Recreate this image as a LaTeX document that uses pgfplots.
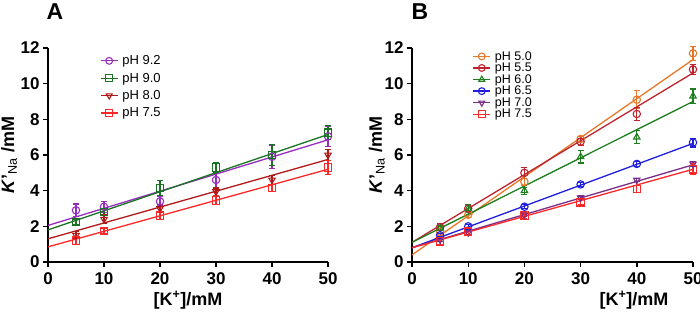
\documentclass[border=0pt]{standalone}
\usepackage{pgfplots}
\pgfplotsset{compat=1.18}
\usepackage{fontspec}
\setmainfont{Liberation Sans}
\definecolor{cPurA}{RGB}{150,45,190}
\definecolor{cGrnA}{RGB}{25,115,35}
\definecolor{cDRed}{RGB}{175,25,25}
\definecolor{cRed}{RGB}{250,40,40}
\definecolor{cOrg}{RGB}{232,120,40}
\definecolor{cRed55}{RGB}{190,35,45}
\definecolor{cGrn60}{RGB}{30,125,30}
\definecolor{cBlue}{RGB}{30,30,220}
\definecolor{cPur70}{RGB}{120,45,135}
\pgfplotsset{
  kstyle/.style={
    scale only axis, width=280pt, height=214pt,
    xmin=0, xmax=50, ymin=0, ymax=12,
    xtick={0,10,...,50}, ytick={0,2,...,12},
    axis lines=left, axis line style={-, line width=1.6pt},
    tick align=outside, major tick length=5pt,
    tick style={line width=1.4pt, black},
    /pgf/number format/assume math mode=true,
    tick label style={font=\fontsize{17}{17}\selectfont\bfseries},
    xticklabel style={yshift=-2pt},
    clip=false,
  },
  fitline/.style={line width=1.3pt, no marks, forget plot},
  pts/.style={only marks, forget plot, mark size=3.7pt, mark options={line width=1.1pt, fill=none},
    error bars/y dir=both, error bars/y explicit,
    error bars/error bar style={line width=1.1pt},
    error bars/error mark options={rotate=90, mark size=3pt, line width=1.1pt}},
  legimg/.style={line width=1.3pt, mark size=3.4pt, mark options={line width=1.1pt, fill=white}},
}
\begin{document}
\begin{tikzpicture}
\useasboundingbox (0pt,0pt) rectangle (700pt,314pt);
\node[font=\fontsize{23}{23}\selectfont\bfseries] at (55pt,302pt) {A};
\node[font=\fontsize{23}{23}\selectfont\bfseries] at (420pt,302pt) {B};
% ---------- Panel A ----------
\begin{axis}[kstyle, at={(48pt,52pt)}, anchor=south west,
  xlabel={\textbf{[K\textsuperscript{+}]/mM}},
  xlabel style={at={(axis description cs:0.5,-0.178)}, anchor=center, font=\fontsize{18}{18}\selectfont},
  ylabel={\textbf{\textit{K}'\textsubscript{\normalfont Na} /mM}},
  ylabel style={at={(axis description cs:-0.139,0.5)}, anchor=center, font=\fontsize{18}{18}\selectfont},
  legend style={at={(axis description cs:0.185,0.975)}, anchor=north west, draw=none, fill=none,
    font=\fontsize{13}{13}\selectfont, row sep=2.8pt, inner sep=0pt,
    nodes={inner xsep=4pt}},
  legend cell align=left,
]
\addlegendimage{legimg, cPurA, mark=o}\addlegendentry{pH 9.2}
\addlegendimage{legimg, cGrnA, mark=square}\addlegendentry{pH 9.0}
\addlegendimage{legimg, cDRed, mark=triangle, mark options={rotate=180, line width=1.1pt, fill=white}}\addlegendentry{pH 8.0}
\addlegendimage{legimg, cRed, mark=square}\addlegendentry{pH 7.5}
% pH 9.2
\addplot[fitline, cPurA] coordinates {(0,2.05) (50,6.85)};
\addplot[pts, cPurA, mark=o] table[x=x, y=y, y error=e] {
x y e
5 2.9 0.35
10 3.1 0.3
20 3.4 0.25
30 4.6 0.4
40 5.9 0.65
50 7.05 0.55
};
% pH 9.0
\addplot[fitline, cGrnA] coordinates {(0,1.8) (50,7.15)};
\addplot[pts, cGrnA, mark=square] table[x=x, y=y, y error=e] {
x y e
5 2.25 0.15
10 2.8 0.2
20 4.15 0.4
30 5.3 0.3
40 6.0 0.6
50 7.25 0.4
};
% pH 8.0
\addplot[fitline, cDRed] coordinates {(0,1.3) (50,5.75)};
\addplot[pts, cDRed, mark=triangle, mark options={rotate=180, line width=1.1pt, fill=none}] table[x=x, y=y, y error=e] {
x y e
5 1.5 0.2
10 2.4 0.25
20 3.0 0.2
30 3.95 0.2
40 4.6 0.25
50 6.0 0.3
};
% pH 7.5
\addplot[fitline, cRed] coordinates {(0,0.85) (50,5.2)};
\addplot[pts, cRed, mark=square] table[x=x, y=y, y error=e] {
x y e
5 1.2 0.2
10 1.75 0.15
20 2.6 0.2
30 3.45 0.25
40 4.15 0.2
50 5.3 0.4
};
\end{axis}
% ---------- Panel B ----------
\begin{axis}[kstyle, at={(412pt,52pt)}, anchor=south west, width=281pt,
  xlabel={\textbf{[K\textsuperscript{+}]/mM}},
  xlabel style={at={(axis description cs:0.79,-0.178)}, anchor=center, font=\fontsize{18}{18}\selectfont},
  ylabel={\textbf{\textit{K}'\textsubscript{\normalfont Na} /mM}},
  ylabel style={at={(axis description cs:-0.125,0.5)}, anchor=center, font=\fontsize{18}{18}\selectfont},
  legend style={at={(axis description cs:0.215,0.995)}, anchor=north west, draw=none, fill=none,
    font=\fontsize{12.5}{12.5}\selectfont, row sep=-2.6pt, inner sep=0pt,
    nodes={inner xsep=4pt}},
  legend cell align=left,
]
\addlegendimage{legimg, cOrg, mark=o}\addlegendentry{pH 5.0}
\addlegendimage{legimg, cRed55, mark=o}\addlegendentry{pH 5.5}
\addlegendimage{legimg, cGrn60, mark=triangle}\addlegendentry{pH 6.0}
\addlegendimage{legimg, cBlue, mark=o}\addlegendentry{pH 6.5}
\addlegendimage{legimg, cPur70, mark=triangle, mark options={rotate=180, line width=1.1pt, fill=white}}\addlegendentry{pH 7.0}
\addlegendimage{legimg, cRed, mark=square}\addlegendentry{pH 7.5}
% pH 5.0
\addplot[fitline, cOrg] coordinates {(0,0.4) (50,11.35)};
\addplot[pts, cOrg, mark=o] table[x=x, y=y, y error=e] {
x y e
5 1.7 0.2
10 2.65 0.15
20 4.5 0.2
30 6.9 0.15
40 9.1 0.5
50 11.7 0.4
};
% pH 5.5
\addplot[fitline, cRed55] coordinates {(0,1.1) (50,10.6)};
\addplot[pts, cRed55, mark=o] table[x=x, y=y, y error=e] {
x y e
5 1.95 0.2
10 3.0 0.2
20 5.0 0.3
30 6.75 0.2
40 8.3 0.35
50 10.8 0.3
};
% pH 6.0
\addplot[fitline, cGrn60] coordinates {(0,1.1) (50,9.0)};
\addplot[pts, cGrn60, mark=triangle] table[x=x, y=y, y error=e] {
x y e
5 1.9 0.15
10 3.0 0.2
20 4.0 0.2
30 5.9 0.35
40 7.0 0.35
50 9.3 0.4
};
% pH 6.5
\addplot[fitline, cBlue] coordinates {(0,0.8) (50,6.65)};
\addplot[pts, cBlue, mark=o] table[x=x, y=y, y error=e] {
x y e
5 1.5 0.1
10 2.0 0.1
20 3.1 0.1
30 4.35 0.1
40 5.5 0.15
50 6.7 0.25
};
% pH 7.0
\addplot[fitline, cPur70] coordinates {(0,0.8) (50,5.45)};
\addplot[pts, cPur70, mark=triangle, mark options={rotate=180, line width=1.1pt, fill=none}] table[x=x, y=y, y error=e] {
x y e
5 1.25 0.1
10 1.65 0.1
20 2.65 0.1
30 3.6 0.1
40 4.6 0.1
50 5.5 0.15
};
% pH 7.5
\addplot[fitline, cRed] coordinates {(0,0.8) (50,5.2)};
\addplot[pts, cRed, mark=square] table[x=x, y=y, y error=e] {
x y e
5 1.15 0.15
10 1.7 0.15
20 2.6 0.15
30 3.35 0.15
40 4.1 0.2
50 5.2 0.3
};
\end{axis}
\end{tikzpicture}
\end{document}
